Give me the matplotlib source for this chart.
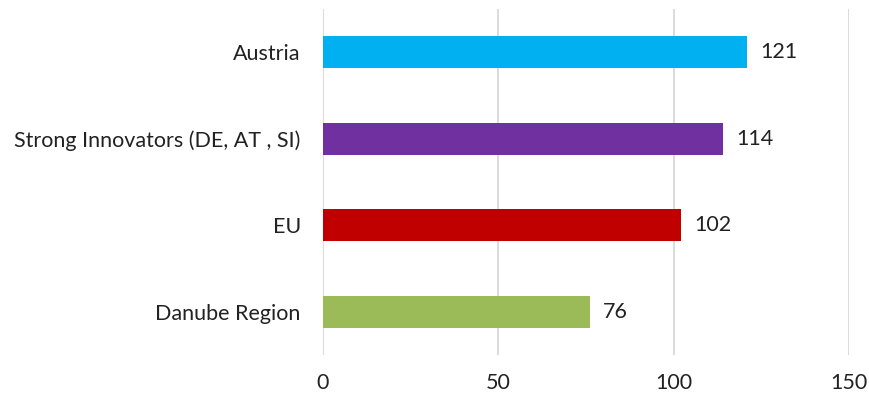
import matplotlib.pyplot as plt

categories = ["Austria", "Strong Innovators (DE, AT , SI)", "EU", "Danube Region"]
values = [121, 114, 102, 76]
colors = ["#00B0F0", "#7030A0", "#C00000", "#9BBB59"]
xticks = [0, 50, 100, 150]

plt.rcParams['font.family'] = ['Lato', 'DejaVu Sans']
fs = 15.5

fig = plt.figure(figsize=(8.7, 3.98), dpi=100)
ax = fig.add_axes([0.3713, 0.108, 0.6046, 0.869])

ypos = list(range(len(categories)))
ax.barh(ypos, values, height=0.37, color=colors, zorder=3)
for y, v in zip(ypos, values):
    ax.text(v + 3.8, y, str(v), va='center', ha='left', fontsize=fs, color='#222222')

ax.set_ylim(len(categories) - 0.5, -0.5)
ax.set_xlim(0, 150)
ax.set_yticks(ypos)
ax.set_yticklabels(categories, fontsize=fs, color='#222222')
ax.set_xticks(xticks)
ax.set_xticklabels([str(t) for t in xticks], fontsize=fs, color='#222222')
ax.tick_params(axis='y', length=0, pad=16)
ax.tick_params(axis='x', length=0, pad=13)
ax.grid(axis='x', color='#D4D4D4', linewidth=1.2, zorder=0)
for s in ax.spines.values():
    s.set_visible(False)

fig.savefig("out.png", dpi=100)
